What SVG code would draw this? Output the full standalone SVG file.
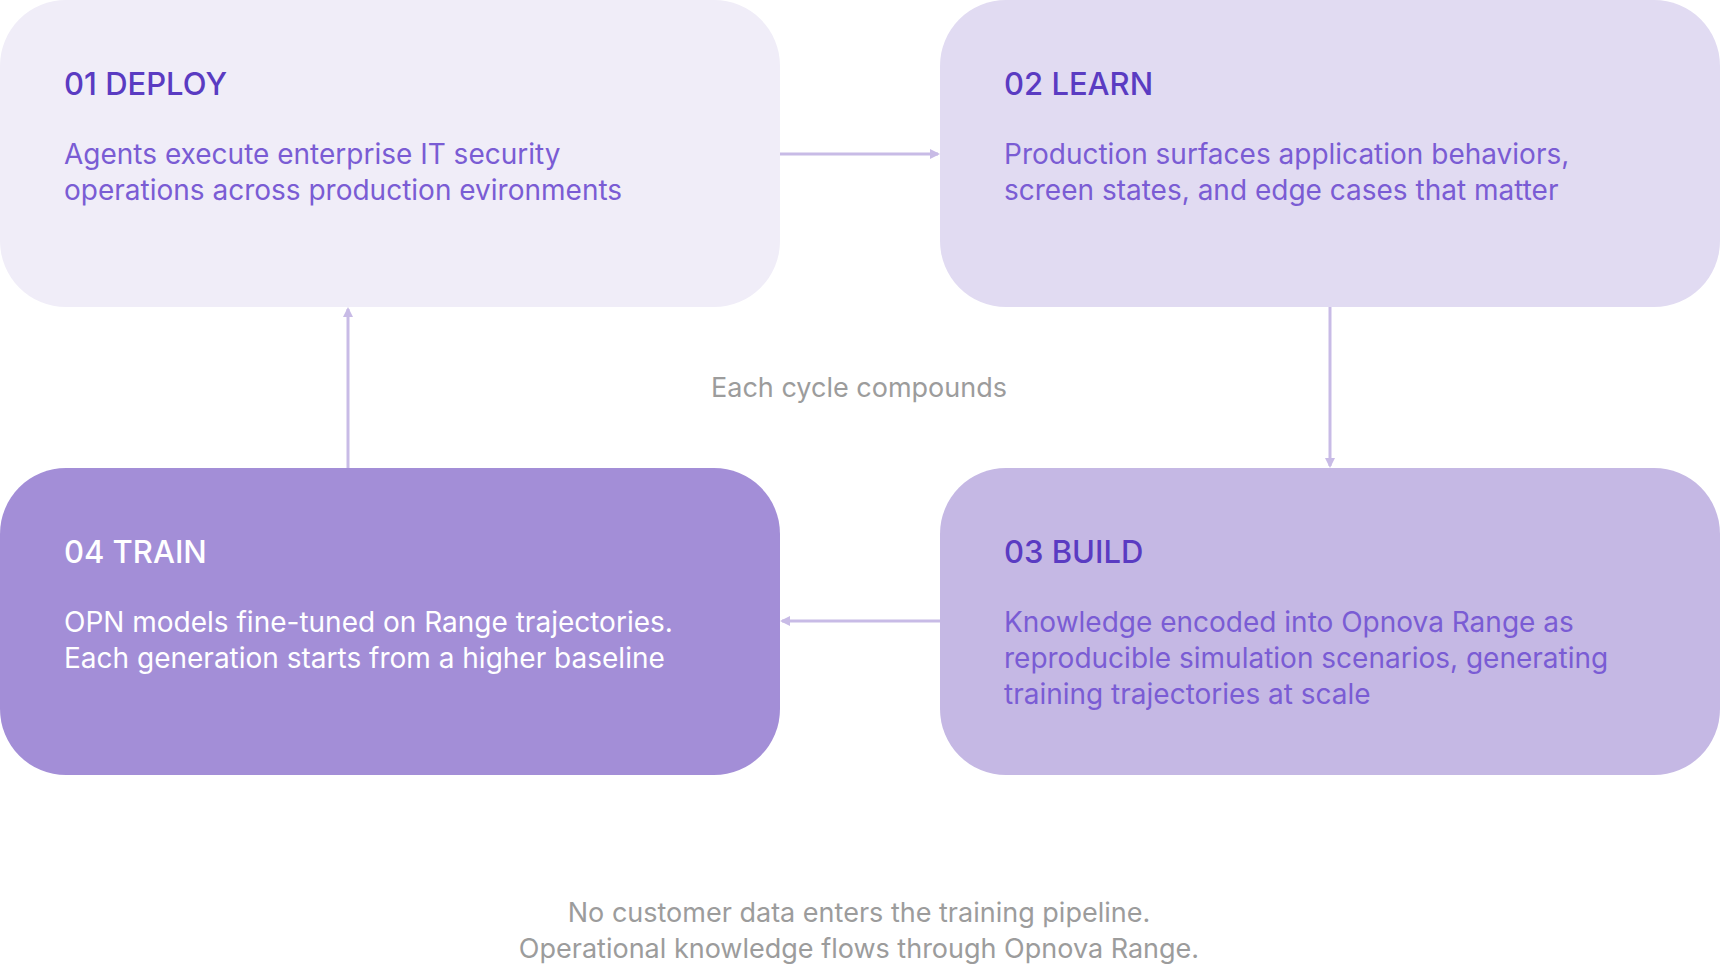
<svg xmlns="http://www.w3.org/2000/svg" width="1720" height="968" viewBox="0 0 1720 968">
<style>
text{font-family:Inter,"Noto Sans",sans-serif}
.t{font-size:31px;font-weight:500;fill:#5a3bc2}
.b{font-size:28px;fill:#7a5cd4}
.w{fill:#ffffff}
.c{stroke:#c8bbe6;stroke-width:3;fill:none}
.g{font-size:27px;fill:#9c9c9c;text-anchor:middle}
</style>
<defs><marker id="a" markerWidth="10" markerHeight="10" refX="8" refY="5" orient="auto" markerUnits="userSpaceOnUse" viewBox="0 0 10 10"><path d="M0,0L10,5L0,10z" fill="#c8bbe6"/></marker></defs>
<g id="deploy"><rect x="0" y="0" width="780" height="307" rx="66" fill="#f0edf8"/>
<text class="t" x="64" y="95">01 DEPLOY</text>
<text class="b" x="64" y="164">Agents execute enterprise IT security</text>
<text class="b" x="64" y="200">operations across production evironments</text></g>
<g id="learn"><rect x="940" y="0" width="780" height="307" rx="66" fill="#e1dbf2"/>
<text class="t" x="1004" y="95">02 LEARN</text>
<text class="b" x="1004" y="164">Production surfaces application behaviors,</text>
<text class="b" x="1004" y="200">screen states, and edge cases that matter</text></g>
<g id="build"><rect x="940" y="468" width="780" height="307" rx="66" fill="#c5b8e4"/>
<text class="t" x="1004" y="563">03 BUILD</text>
<text class="b" x="1004" y="632">Knowledge encoded into Opnova Range as</text>
<text class="b" x="1004" y="668">reproducible simulation scenarios, generating</text>
<text class="b" x="1004" y="704">training trajectories at scale</text></g>
<g id="train"><rect x="0" y="468" width="780" height="307" rx="66" fill="#a38ed7"/>
<text class="t w" x="64" y="563">04 TRAIN</text>
<text class="b w" x="64" y="632">OPN models fine-tuned on Range trajectories.</text>
<text class="b w" x="64" y="668">Each generation starts from a higher baseline</text></g>
<g id="connectors">
<line class="c" x1="780" y1="154" x2="938" y2="154" marker-end="url(#a)"/>
<line class="c" x1="1330" y1="307" x2="1330" y2="466" marker-end="url(#a)"/>
<line class="c" x1="940" y1="621" x2="782" y2="621" marker-end="url(#a)"/>
<line class="c" x1="348" y1="468" x2="348" y2="309" marker-end="url(#a)"/>
</g>
<text class="g" x="859" y="397">Each cycle compounds</text>
<text class="g" x="859" y="922">No customer data enters the training pipeline.</text>
<text class="g" x="859" y="958">Operational knowledge flows through Opnova Range.</text>
</svg>
